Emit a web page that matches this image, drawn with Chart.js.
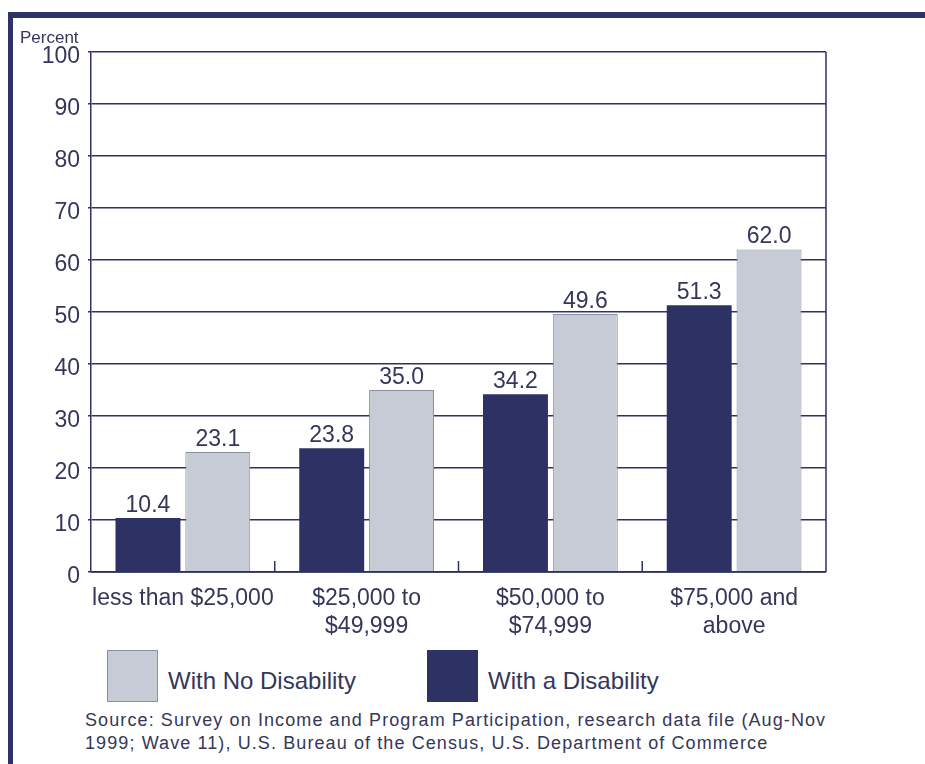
<!DOCTYPE html>
<html>
<head>
<meta charset="utf-8">
<script src="https://cdn.jsdelivr.net/npm/chart.js@4.4.1/dist/chart.umd.min.js"></script>
<style>
  html, body { margin: 0; padding: 0; background: #fff; }
  body { width: 925px; height: 764px; position: relative; overflow: hidden; font-family: "Liberation Sans", Arial, sans-serif; color: #34375a; }
  #frameTop { position: absolute; left: 8px; top: 12px; width: 917px; height: 6px; background: #2f3266; }
  #frameLeft { position: absolute; left: 8px; top: 12px; width: 5px; height: 752px; background: #2f3266; }
  #wrap { position: absolute; left: 0; top: 0; width: 925px; height: 645px; }
  .legend { position: absolute; top: 650px; display: flex; align-items: center; font-size: 24px; }
  .legend span { position: relative; top: 5px; }
  .sw { width: 51px; height: 52px; margin-right: 10px; box-sizing: border-box; }
  #source { position: absolute; left: 85px; top: 709px; font-size: 18px; letter-spacing: 1.1px; line-height: 23px; }
</style>
</head>
<body>
<div id="frameTop"></div>
<div id="frameLeft"></div>
<div id="wrap"><canvas id="chart" width="925" height="645"></canvas></div>
<div class="legend" style="left:107px"><div class="sw" style="background:#c7cbd5;border:1px solid #8a8fa2"></div><span>With No Disability</span></div>
<div class="legend" style="left:427px"><div class="sw" style="background:#2e3163"></div><span>With a Disability</span></div>
<div id="source">Source: Survey on Income and Program Participation, research data file (Aug-Nov<br>1999; Wave 11), U.S. Bureau of the Census, U.S. Department of Commerce</div>
<script>
const categories = [
  'less than $25,000',
  ['$25,000 to', '$49,999'],
  ['$50,000 to', '$74,999'],
  ['$75,000 and', 'above'],
];
const withDisability = [10.4, 23.8, 34.2, 51.3];
const noDisability = [23.1, 35.0, 49.6, 62.0];
const yTicks = [0, 10, 20, 30, 40, 50, 60, 70, 80, 90, 100];

const navy = '#2e3163';
const textColor = '#34375a';

// value labels, right border, group ticks, "Percent"
const extras = {
  id: 'extras',
  afterDatasetsDraw(chart) {
    const ctx = chart.ctx;
    const area = chart.chartArea;
    const x = chart.scales.x;
    ctx.save();
    ctx.strokeStyle = navy;
    ctx.lineWidth = 1.5;
    ctx.beginPath();
    ctx.moveTo(area.right, area.top);
    ctx.lineTo(area.right, area.bottom);
    ctx.moveTo(area.left, area.bottom);
    ctx.lineTo(area.right, area.bottom);
    for (let i = 1; i < categories.length; i++) {
      const bx = (x.getPixelForValue(i - 1) + x.getPixelForValue(i)) / 2;
      ctx.moveTo(bx, area.bottom);
      ctx.lineTo(bx, area.bottom - 11);
    }
    ctx.stroke();

    ctx.fillStyle = textColor;
    ctx.font = '23px "Liberation Sans", Arial, sans-serif';
    ctx.textAlign = 'center';
    ctx.textBaseline = 'bottom';
    chart.data.datasets.forEach((ds, di) => {
      chart.getDatasetMeta(di).data.forEach((bar, i) => {
        ctx.fillText(ds.data[i].toFixed(1), bar.x, bar.y - 1);
      });
    });

    ctx.font = '17px "Liberation Sans", Arial, sans-serif';
    ctx.textAlign = 'left';
    ctx.textBaseline = 'alphabetic';
    ctx.fillText('Percent', 20, 43);
    ctx.restore();
  },
};

new Chart(document.getElementById('chart'), {
  type: 'bar',
  data: {
    labels: categories,
    datasets: [
      { label: 'With a Disability', data: withDisability, backgroundColor: navy, borderWidth: 0 },
      { label: 'With No Disability', data: noDisability, backgroundColor: '#c7cbd5', borderColor: '#8a8fa2', borderWidth: 1 },
    ],
  },
  options: {
    responsive: false,
    animation: false,
    devicePixelRatio: 1,
    layout: { padding: { left: 0, right: 99, top: 52, bottom: 0 } },
    datasets: { bar: { categoryPercentage: 0.76, barPercentage: 0.93 } },
    plugins: { legend: { display: false }, tooltip: { enabled: false } },
    scales: {
      x: {
        grid: { display: false },
        border: { display: false },
        ticks: {
          color: textColor,
          font: { family: '"Liberation Sans", Arial, sans-serif', size: 23 },
          padding: 5,
          maxRotation: 0,
          autoSkip: false,
        },
        afterFit(scale) { scale.height = 73; },
      },
      y: {
        min: 0,
        max: 100,
        afterBuildTicks(scale) { scale.ticks = yTicks.map(v => ({ value: v })); },
        grid: { color: navy, lineWidth: 1.5, tickLength: 3 },
        border: { color: navy, width: 1.5 },
        ticks: {
          color: textColor,
          font: { family: '"Liberation Sans", Arial, sans-serif', size: 23 },
          padding: 8,
          labelOffset: 5,
        },
        afterFit(scale) { scale.width = 91; },
      },
    },
  },
  plugins: [extras],
});
</script>
</body>
</html>
